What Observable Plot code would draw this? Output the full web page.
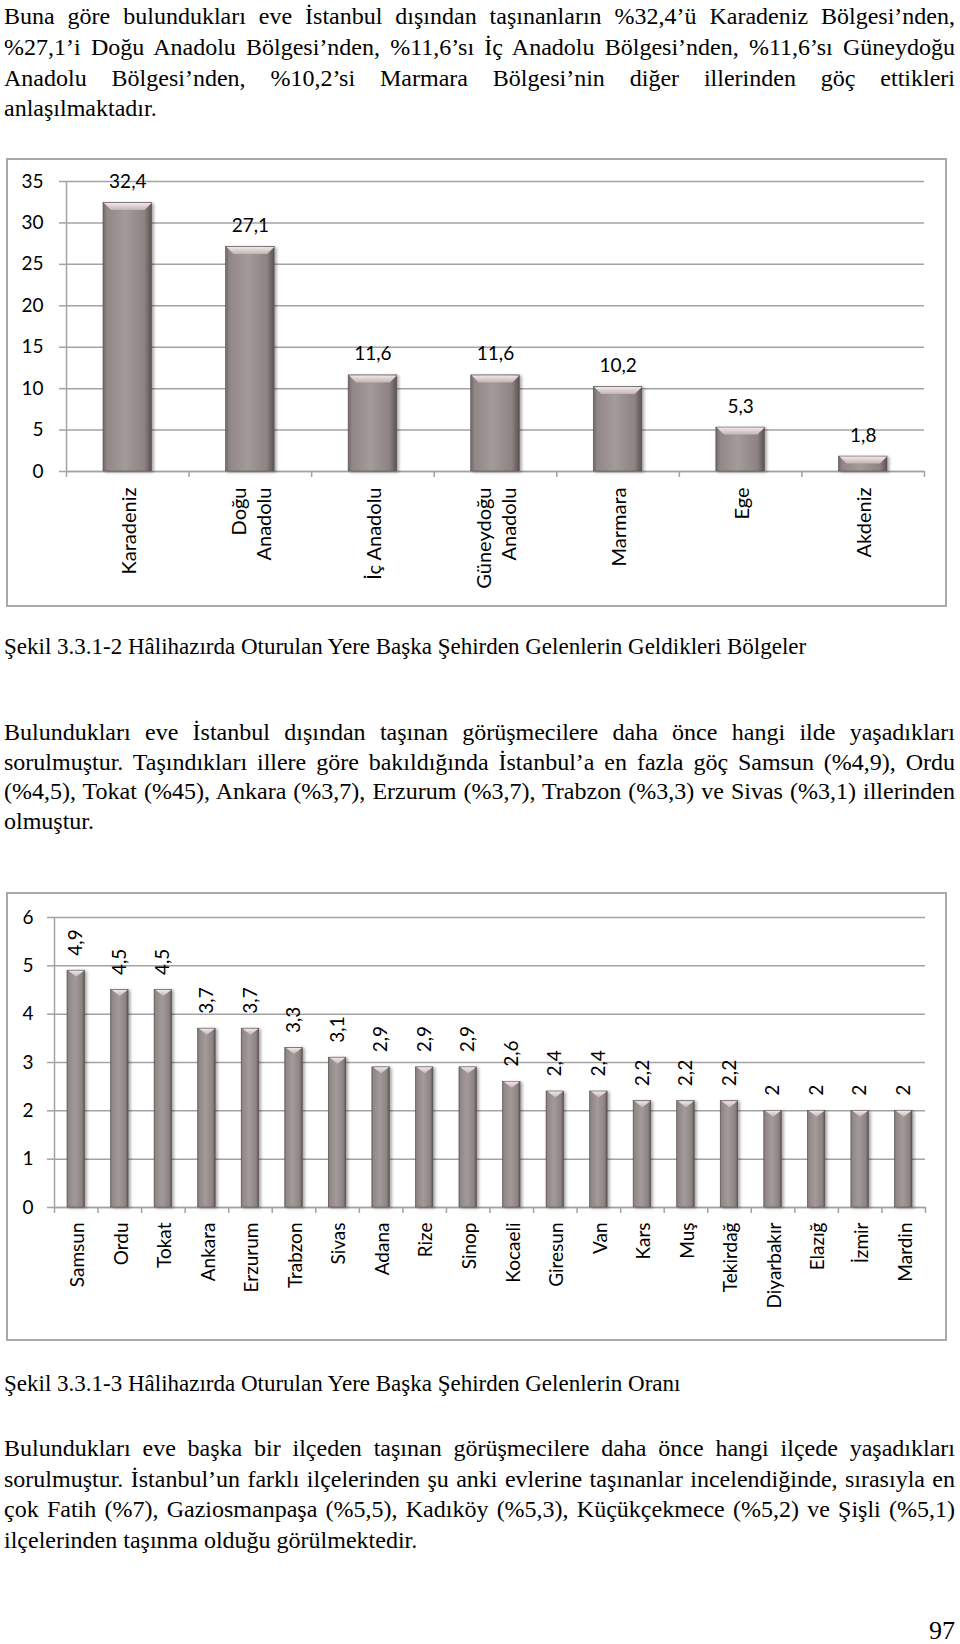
<!DOCTYPE html>
<html><head><meta charset="utf-8">
<script src="https://cdn.jsdelivr.net/npm/d3@7"></script>
<script src="https://cdn.jsdelivr.net/npm/@observablehq/plot@0.6"></script>
<style>
html,body{margin:0;padding:0;background:#fff;}
body{width:960px;height:1644px;position:relative;overflow:hidden;font-family:"Liberation Serif","Times New Roman",serif;color:#000;}
.para{position:absolute;left:4px;width:951px;font-size:24px;}
.para div{white-space:nowrap;}
.jl{display:inline-block;white-space:nowrap;transform-origin:left center;}
.cap{position:absolute;left:4px;font-size:23px;line-height:23px;white-space:nowrap;}
.frame{position:absolute;left:6px;width:941px;height:449px;box-sizing:border-box;border:2px solid #a9a9a9;}
.chart{position:absolute;left:0;}
.pnum{position:absolute;right:5px;top:1618px;font-size:26px;line-height:26px;}
</style>
</head><body>

<div class="para" id="p1" style="top:1px;line-height:30.8px">
<div><span class="jl j">Buna göre bulundukları eve İstanbul dışından taşınanların %32,4’ü Karadeniz Bölgesi’nden,</span></div>
<div><span class="jl j">%27,1’i Doğu Anadolu Bölgesi’nden, %11,6’sı İç Anadolu Bölgesi’nden, %11,6’sı Güneydoğu</span></div>
<div><span class="jl j">Anadolu Bölgesi’nden, %10,2’si Marmara Bölgesi’nin diğer illerinden göç ettikleri</span></div>
<div><span class="jl">anlaşılmaktadır.</span></div>
</div>

<div class="frame" style="top:158px"></div>
<div class="chart" id="chart1" style="top:158px"></div>

<div class="cap" style="top:635px">Şekil 3.3.1-2 Hâlihazırda Oturulan Yere Başka Şehirden Gelenlerin Geldikleri Bölgeler</div>

<div class="para" id="p2" style="top:718px;line-height:29.7px">
<div><span class="jl j">Bulundukları eve İstanbul dışından taşınan görüşmecilere daha önce hangi ilde yaşadıkları</span></div>
<div><span class="jl j">sorulmuştur. Taşındıkları illere göre bakıldığında İstanbul’a en fazla göç Samsun (%4,9), Ordu</span></div>
<div><span class="jl j">(%4,5), Tokat (%45), Ankara (%3,7), Erzurum (%3,7), Trabzon (%3,3) ve Sivas (%3,1) illerinden</span></div>
<div><span class="jl">olmuştur.</span></div>
</div>

<div class="frame" style="top:892px"></div>
<div class="chart" id="chart2" style="top:892px"></div>

<div class="cap" style="top:1372px">Şekil 3.3.1-3 Hâlihazırda Oturulan Yere Başka Şehirden Gelenlerin Oranı</div>

<div class="para" id="p3" style="top:1433px;line-height:30.7px">
<div><span class="jl j">Bulundukları eve başka bir ilçeden taşınan görüşmecilere daha önce hangi ilçede yaşadıkları</span></div>
<div><span class="jl j">sorulmuştur. İstanbul’un farklı ilçelerinden şu anki evlerine taşınanlar incelendiğinde, sırasıyla en</span></div>
<div><span class="jl j">çok Fatih (%7), Gaziosmanpaşa (%5,5), Kadıköy (%5,3), Küçükçekmece (%5,2) ve Şişli (%5,1)</span></div>
<div><span class="jl">ilçelerinden taşınma olduğu görülmektedir.</span></div>
</div>

<div class="pnum">97</div>

<script>
// ---- Data ----
const regions = ["Karadeniz", "Doğu\nAnadolu", "İç Anadolu", "Güneydoğu\nAnadolu", "Marmara", "Ege", "Akdeniz"];
const regionValues = [32.4, 27.1, 11.6, 11.6, 10.2, 5.3, 1.8];
const regionTicks = [0, 5, 10, 15, 20, 25, 30, 35];

const cities = ["Samsun", "Ordu", "Tokat", "Ankara", "Erzurum", "Trabzon", "Sivas", "Adana", "Rize", "Sinop",
  "Kocaeli", "Giresun", "Van", "Kars", "Muş", "Tekirdağ", "Diyarbakır", "Elazığ", "İzmir", "Mardin"];
const cityValues = [4.9, 4.5, 4.5, 3.7, 3.7, 3.3, 3.1, 2.9, 2.9, 2.9, 2.6, 2.4, 2.4, 2.2, 2.2, 2.2, 2, 2, 2, 2];
const cityTicks = [0, 1, 2, 3, 4, 5, 6];

const fmt = v => String(v).replace(".", ",");
const GRID = "#a3a3a3";

function defsMark() {
  return () => {
    const d = d3.create("svg:defs");
    const g = d.append("linearGradient").attr("id", "barGrad").attr("x1", 0).attr("x2", 1).attr("y1", 0).attr("y2", 0);
    [["0%", "#6f6666"], ["8%", "#918787"], ["45%", "#a39a9a"], ["85%", "#8d8383"], ["100%", "#5b5252"]]
      .forEach(([o, c]) => g.append("stop").attr("offset", o).attr("stop-color", c));
    const b = d.append("linearGradient").attr("id", "bevGrad").attr("x1", 0).attr("x2", 0).attr("y1", 0).attr("y2", 1);
    [["0%", "#f3e6e6"], ["100%", "#c2b5b5"]]
      .forEach(([o, c]) => b.append("stop").attr("offset", o).attr("stop-color", c));
    const f = d.append("filter").attr("id", "shadow").attr("x", "-20%").attr("y", "-5%").attr("width", "150%").attr("height", "115%");
    f.append("feDropShadow").attr("dx", 2).attr("dy", 1).attr("stdDeviation", 1.5).attr("flood-color", "#000").attr("flood-opacity", 0.35);
    return d.node();
  };
}

function bevel(w, h, inset) {
  return {
    draw(ctx) {
      ctx.moveTo(-w / 2, 0); ctx.lineTo(w / 2, 0);
      ctx.lineTo(w / 2 - inset, h); ctx.lineTo(-w / 2 + inset, h); ctx.closePath();
    }
  };
}

function makeChart(cfg) {
  const data = cfg.names.map((name, i) => ({name, value: cfg.values[i], i}));
  const n = data.length;
  const chart = Plot.plot({
    width: 960,
    height: 449,
    marginLeft: cfg.marginLeft,
    marginRight: cfg.marginRight,
    marginTop: cfg.marginTop,
    marginBottom: cfg.marginBottom,
    style: {fontFamily: "Lato, 'Open Sans', sans-serif", background: "transparent", color: "#000", overflow: "visible"},
    x: {type: "linear", domain: [0, n], label: null},
    y: {domain: [0, cfg.ticks[cfg.ticks.length - 1]], label: null},
    marks: [
      defsMark(),
      Plot.gridY(cfg.ticks, {stroke: GRID, strokeOpacity: 1, strokeWidth: 1.5}),
      Plot.axisY({ticks: cfg.ticks, label: null, tickSize: 7, tickPadding: cfg.tickPadding, stroke: GRID, strokeWidth: 1.5, fill: "#000", fontSize: 19, tickFormat: d => String(d)}),
      Plot.axisX({ticks: d3.range(n + 1), label: null, tickSize: 6, stroke: GRID, strokeWidth: 1.5, tickFormat: () => ""}),
      Plot.ruleX([0], {stroke: GRID, strokeWidth: 1.5}),
      Plot.ruleY([0], {stroke: GRID, strokeWidth: 1.5}),
      Plot.rectY(data, {x1: "i", x2: d => d.i + 1, y1: 0, y2: "value", insetLeft: cfg.inset, insetRight: cfg.inset, fill: "url(#barGrad)", stroke: "#5a5151", strokeWidth: 0.6}),
      Plot.dot(data, {x: d => d.i + 0.5, y: "value", symbol: cfg.bevel, r: 4, fill: "url(#bevGrad)", stroke: "none"}),
      cfg.valueMark(data),
      Plot.text(data, {x: d => d.i + 0.5, y: 0, text: "name", rotate: -90, textAnchor: "end", dy: cfg.labelDy, fontSize: cfg.labelSize, lineHeight: 1.28, fill: "#000"})
    ]
  });
  chart.querySelectorAll('g[aria-label="rect"]').forEach(g => g.setAttribute("filter", "url(#shadow)"));
  return chart;
}

const bw1 = 122.6 - 2 * 37;
document.getElementById("chart1").appendChild(makeChart({
  names: regions, values: regionValues, ticks: regionTicks,
  marginLeft: 66, marginRight: 36, marginTop: 23, marginBottom: 136,
  tickPadding: 16, inset: 37, labelDy: 16, labelSize: 20,
  bevel: bevel(bw1 - 1, 7, 7),
  valueMark: data => Plot.text(data, {x: d => d.i + 0.5, y: "value", text: d => fmt(d.value), dy: -21, fontSize: 19, fill: "#000"})
}));

const bw2 = 43.55 - 2 * 13;
document.getElementById("chart2").appendChild(makeChart({
  names: cities, values: cityValues, ticks: cityTicks,
  marginLeft: 54, marginRight: 35, marginTop: 25, marginBottom: 134,
  tickPadding: 14, inset: 13, labelDy: 15, labelSize: 19,
  bevel: bevel(bw2 - 2, 6, (bw2 - 2) / 2),
  valueMark: data => Plot.text(data, {x: d => d.i + 0.5, y: "value", text: d => fmt(d.value), rotate: -90, textAnchor: "start", dy: -15, fontSize: 19, fill: "#000"})
}));

// ---- justify paragraph lines ----
function justify() {
  const target = 951;
  document.querySelectorAll(".jl.j").forEach(el => {
    el.style.wordSpacing = "0px";
    el.style.transform = "";
    const w = el.getBoundingClientRect().width;
    const spaces = (el.textContent.match(/ /g) || []).length;
    if (w > target) {
      el.style.transform = `scaleX(${target / w})`;
    } else if (spaces) {
      el.style.wordSpacing = ((target - w) / spaces) + "px";
    }
  });
}
justify();
if (document.fonts && document.fonts.ready) document.fonts.ready.then(justify);
</script>
</body></html>
